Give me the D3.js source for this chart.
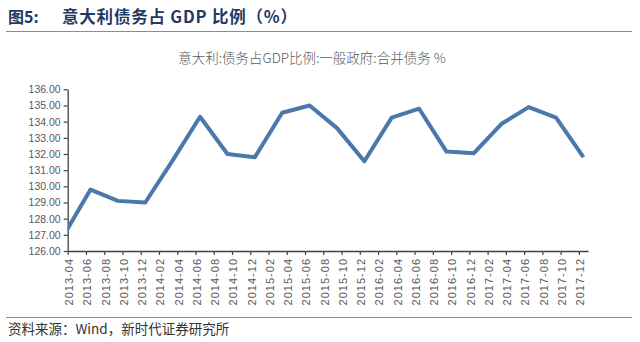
<!DOCTYPE html>
<html><head><meta charset="utf-8">
<script src="https://cdn.jsdelivr.net/npm/d3@7"></script>
<style>
html,body{margin:0;padding:0;background:#fff;}
svg{display:block;}
</style></head>
<body>
<svg id="c" width="640" height="342"></svg>
<script>
// ---- data ----
const titleLabel = "图5:";
const titleText = "意大利债务占 GDP 比例（%）";
const subtitle = "意大利:债务占GDP比例:一般政府:合并债务 %";
const source = "资料来源：Wind，新时代证券研究所";
const quarters = ["2013-03","2013-06","2013-09","2013-12","2014-03","2014-06","2014-09","2014-12",
  "2015-03","2015-06","2015-09","2015-12","2016-03","2016-06","2016-09","2016-12",
  "2017-03","2017-06","2017-09","2017-12"];
const values = [126.9,129.8,129.1,129.0,131.6,134.3,132.0,131.8,
  134.55,135.0,133.6,131.55,134.25,134.8,132.15,132.05,
  133.85,134.9,134.25,131.8];
const xTickLabels = ["2013-04","2013-06","2013-08","2013-10","2013-12",
  "2014-02","2014-04","2014-06","2014-08","2014-10","2014-12",
  "2015-02","2015-04","2015-06","2015-08","2015-10","2015-12",
  "2016-02","2016-04","2016-06","2016-08","2016-10","2016-12",
  "2017-02","2017-04","2017-06","2017-08","2017-10","2017-12"];
const yTicks = [126,127,128,129,130,131,132,133,134,135,136];

// ---- helpers ----
const monthIndex = s => { const [y,m] = s.split("-").map(Number); return (y-2013)*12 + (m-4); };

const svg = d3.select("#c");
const L = 67.7, R = 588, T = 89.3, B = 251;
const x = d3.scaleLinear().domain([0, monthIndex("2017-12") + 1]).range([L, R]);
const y = d3.scaleLinear().domain([126, 136]).range([B, T]);
const axisColor = "#404040", textColor = "#595959";

// title
svg.append("text").attr("x", 8).attr("y", 23)
  .attr("font-family", "'Noto Sans CJK SC'").attr("font-weight", 700).attr("font-size", 16)
  .attr("fill", "#1f3a64").text(titleLabel);
svg.append("text").attr("x", 62).attr("y", 23)
  .attr("font-family", "'Noto Sans CJK SC'").attr("font-weight", 700).attr("font-size", 16.5)
  .attr("letter-spacing", 0.8)
  .attr("fill", "#1f3a64").text(titleText);
svg.append("line").attr("x1", 6).attr("x2", 632).attr("y1", 31.5).attr("y2", 31.5)
  .attr("stroke", "#8c8c8c").attr("stroke-width", 1);

// subtitle
svg.append("text").attr("x", 312).attr("y", 63).attr("text-anchor", "middle")
  .attr("font-family", "'Noto Sans CJK SC'").attr("font-weight", 300).attr("font-size", 13.5)
  .attr("fill", textColor).text(subtitle);

// y axis
const yAxis = d3.axisLeft(y).tickValues(yTicks).tickFormat(d3.format(".2f")).tickSize(4).tickSizeOuter(0);
const gy = svg.append("g").attr("transform", `translate(${L},0)`).call(yAxis);
gy.select(".domain").attr("stroke", axisColor).attr("stroke-width", 1.3);
gy.selectAll(".tick line").attr("stroke", axisColor).attr("stroke-width", 1.2);
gy.selectAll(".tick text").attr("fill", textColor).attr("font-family", "'Liberation Sans'")
  .attr("font-size", 10.5).attr("x", -7);

// x axis
const xTickVals = xTickLabels.map(monthIndex);
const xAxis = d3.axisBottom(x).tickValues(xTickVals).tickFormat((d,i) => xTickLabels[i]).tickSize(4).tickSizeOuter(0);
const gx = svg.append("g").attr("transform", `translate(0,${B})`).call(xAxis);
gx.select(".domain").attr("stroke", axisColor).attr("stroke-width", 1.3);
gx.selectAll(".tick line").attr("stroke", axisColor).attr("stroke-width", 1.2);
gx.selectAll(".tick text")
  .attr("fill", textColor).attr("font-family", "'Liberation Sans'").attr("font-size", 11)
  .attr("letter-spacing", 1)
  .attr("text-anchor", "end").attr("transform", "rotate(-90)")
  .attr("x", -7).attr("y", 1).attr("dy", "0.35em");

// line
svg.append("clipPath").attr("id", "clip").append("rect")
  .attr("x", L).attr("y", 0).attr("width", 640 - L).attr("height", 342);
const line = d3.line().x((d,i) => x(monthIndex(quarters[i]) + 0.5)).y(d => y(d));
svg.append("path").datum(values).attr("clip-path", "url(#clip)")
  .attr("d", line).attr("fill", "none").attr("stroke", "#4a78ac")
  .attr("stroke-width", 4).attr("stroke-linejoin", "round");

// source
svg.append("line").attr("x1", 6).attr("x2", 632).attr("y1", 317.5).attr("y2", 317.5)
  .attr("stroke", "#8c8c8c").attr("stroke-width", 1);
svg.append("text").attr("x", 8).attr("y", 334)
  .attr("font-family", "'Noto Sans CJK SC'").attr("font-size", 13.5)
  .attr("fill", "#333").text(source);
</script>
</body></html>
